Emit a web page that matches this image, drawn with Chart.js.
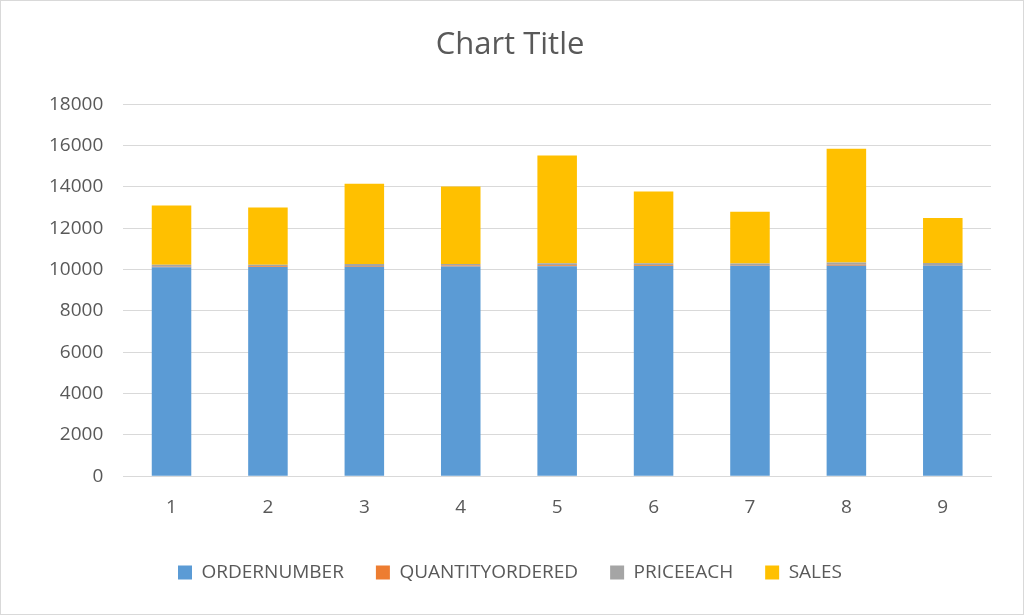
<!DOCTYPE html>
<html><head><meta charset="utf-8">
<script src="https://cdn.jsdelivr.net/npm/chart.js@4"></script>
<style>html,body{margin:0;padding:0;background:#fff}
#wrap{position:absolute;left:0;top:0;width:1022px;height:613px;border:1px solid #d9d9d9}</style>
</head><body><div id="wrap"><canvas id="c" width="1022" height="613"></canvas></div>
<script>
const categories = ["1","2","3","4","5","6","7","8","9"];
const orderNumber = [10107,10121,10134,10145,10159,10168,10180,10188,10201];
const quantityOrdered = [30,34,41,45,49,36,29,48,22];
const priceEach = [95.7,81.35,94.74,83.26,100,96.66,86.13,100,98.57];
const sales = [2871,2765.9,3884.34,3746.7,5205.27,3479.76,2497.77,5512.32,2168.54];
const font = {family:"'Open Sans', Calibri, sans-serif"};
new Chart(document.getElementById('c'),{
  type:'bar',
  data:{labels:categories,datasets:[
    {label:'ORDERNUMBER',data:orderNumber,backgroundColor:'#5b9bd5'},
    {label:'QUANTITYORDERED',data:quantityOrdered,backgroundColor:'#ed7d31'},
    {label:'PRICEEACH',data:priceEach,backgroundColor:'#a5a5a5'},
    {label:'SALES',data:sales,backgroundColor:'#ffc000'}
  ]},
  options:{responsive:false,animation:false,
    layout:{padding:{left:28,right:32,top:10,bottom:22}},
    datasets:{bar:{categoryPercentage:0.82,barPercentage:0.5}},
    plugins:{
      title:{display:true,text:'Chart Title',color:'#595959',font:{...font,size:31,weight:'normal'},padding:{top:16,bottom:40}},
      legend:{position:'bottom',labels:{color:'#595959',font:{...font,size:19},boxWidth:14,boxHeight:14,padding:32}},
      tooltip:{enabled:false}
    },
    scales:{
      x:{stacked:true,grid:{display:false},border:{color:'#d9d9d9'},ticks:{color:'#595959',font:{...font,size:19},padding:12}},
      y:{stacked:true,min:0,max:18000,ticks:{stepSize:2000,color:'#595959',font:{...font,size:19},padding:20,callback:v=>String(v)},
         grid:{color:'#d9d9d9',drawTicks:false},border:{display:false}}
    }
  }
});
</script></body></html>
